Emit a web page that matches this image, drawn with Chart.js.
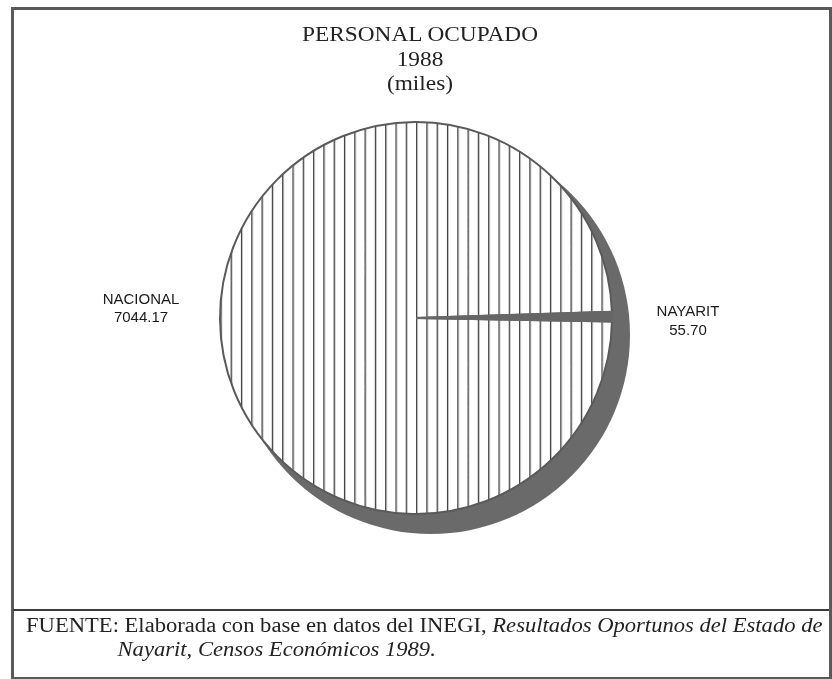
<!DOCTYPE html>
<html>
<head>
<meta charset="utf-8">
<script src="https://cdn.jsdelivr.net/npm/chart.js@4.4.1/dist/chart.umd.min.js"></script>
<style>
  html, body { margin: 0; padding: 0; background: #fff; }
  body { width: 832px; height: 679px; position: relative; overflow: hidden; }
  #frame {
    position: absolute; left: 11px; top: 7px; width: 815px; height: 667px;
    border: 3px solid #5a5a5a; box-sizing: content-box;
  }
  #divider {
    position: absolute; left: 13px; top: 609px; width: 816px; height: 2px; background: #3a3a3a;
  }
  #wrap { position: absolute; left: 0; top: 0; width: 832px; height: 610px; }
  .title {
    position: absolute; left: 4px; width: 832px; text-align: center;
    font-family: "Liberation Serif", "Times New Roman", serif; font-size: 21px; color: #222;
    line-height: 24.5px; transform: scaleX(1.11); transform-origin: 416px 0;
  }
  #foot {
    position: absolute; left: 26px; top: 614px; width: 800px;
    font-family: "Liberation Serif", "Times New Roman", serif; font-size: 20px; color: #222;
    line-height: 23.5px; white-space: nowrap;
    transform: scaleX(1.13); transform-origin: 0 0;
  }
  #foot .l2 { padding-left: 81px; }
</style>
</head>
<body>
<div id="frame"></div>
<div id="wrap"><canvas id="chart"></canvas></div>
<div class="title" style="top:22px">PERSONAL OCUPADO<br>1988<br>(miles)</div>
<div id="divider"></div>
<div id="foot">
  <div>FUENTE: Elaborada con base en datos del INEGI, <i>Resultados Oportunos del Estado de</i></div>
  <div class="l2"><i>Nayarit, Censos Económicos 1989.</i></div>
</div>
<script>
const categories = ["NACIONAL", "NAYARIT"];
const values = [7044.17, 55.70];
const valueLabels = ["7044.17", "55.70"];

// vertical hatch for the big slice
function hatch() {
  const c = document.createElement("canvas");
  c.width = 10;
  c.height = 10;
  const g = c.getContext("2d");
  g.fillStyle = "#fff";
  g.fillRect(0, 0, 10, 10);
  g.fillStyle = "#3c3c3c";
  g.fillRect(0, 0, 1.3, 10);
  const p = g.createPattern(c, "repeat");
  p.setTransform(new DOMMatrix().translate(4, 0).scale(1.03, 1));
  return p;
}

// gray offset disc behind the pie
const shadowPlugin = {
  id: "shadow",
  beforeDatasetsDraw: chart => {
    const arc = chart.getDatasetMeta(0).data[0];
    const ctx = chart.ctx;
    ctx.save();
    ctx.beginPath();
    ctx.arc(arc.x + 15, arc.y + 17, arc.outerRadius + 3, 0, Math.PI * 2);
    ctx.fillStyle = "#6a6a6a";
    ctx.fill();
    ctx.restore();
  }
};

// category labels either side of the pie
const labelPlugin = {
  id: "sideLabels",
  afterDraw: chart => {
    const arc = chart.getDatasetMeta(0).data[0];
    const ctx = chart.ctx;
    ctx.save();
    ctx.font = "15px 'Liberation Sans', Arial, sans-serif";
    ctx.fillStyle = "#1a1a1a";
    ctx.textAlign = "center";
    ctx.textBaseline = "alphabetic";
    ctx.fillText(categories[0], arc.x - 275, arc.y - 14);
    ctx.fillText(valueLabels[0], arc.x - 275, arc.y + 4);
    ctx.fillText(categories[1], arc.x + 272, arc.y - 2);
    ctx.fillText(valueLabels[1], arc.x + 272, arc.y + 17);
    ctx.restore();
  }
};

new Chart(document.getElementById("chart"), {
  type: "pie",
  data: {
    labels: categories,
    datasets: [{
      data: values,
      backgroundColor: [hatch(), "#666"],
      borderColor: ["#5a5a5a", "#666"],
      borderWidth: 2
    }]
  },
  options: {
    responsive: true,
    maintainAspectRatio: false,
    animation: false,
    rotation: 91,
    layout: { padding: { top: 121, bottom: 95, left: 0, right: 0 } },
    plugins: {
      legend: { display: false },
      tooltip: { enabled: false }
    }
  },
  plugins: [shadowPlugin, labelPlugin]
});
</script>
</body>
</html>
